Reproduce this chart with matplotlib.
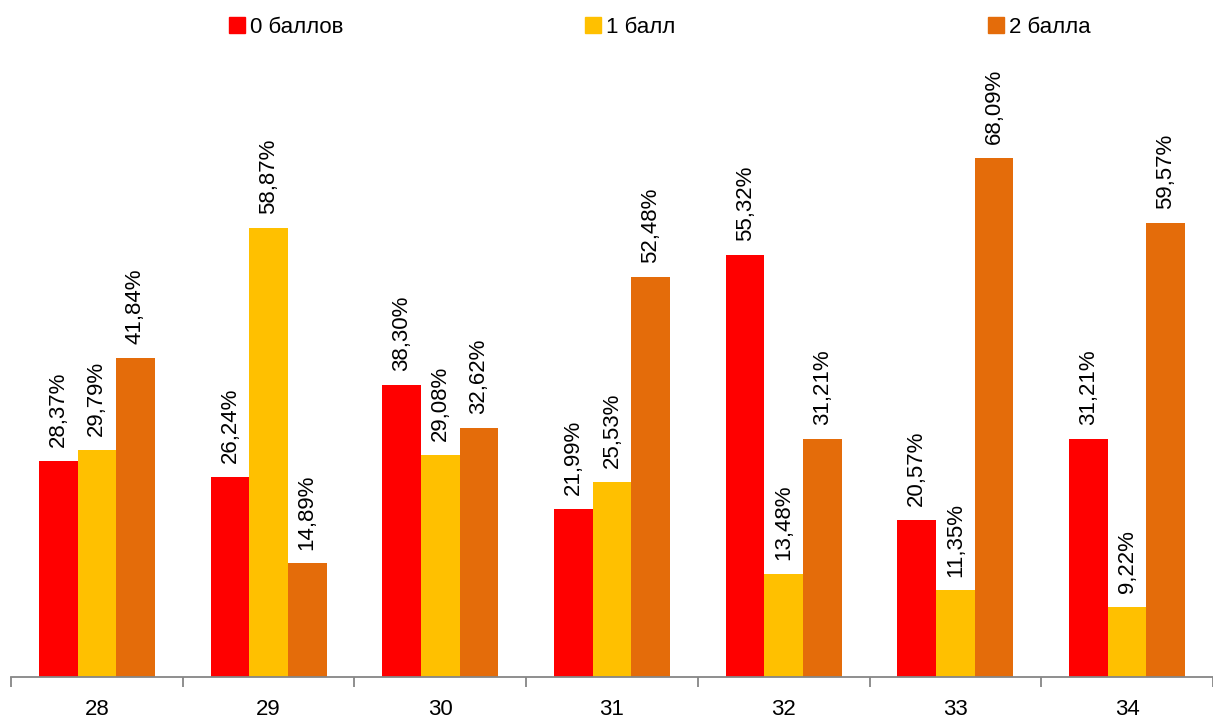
import numpy as np
import matplotlib.pyplot as plt
from matplotlib.patches import Patch

# Данные
groups = ["28", "29", "30", "31", "32", "33", "34"]
series_names = ["0 баллов", "1 балл", "2 балла"]
vals_0 = [28.37, 26.24, 38.30, 21.99, 55.32, 20.57, 31.21]
vals_1 = [29.79, 58.87, 29.08, 25.53, 13.48, 11.35, 9.22]
vals_2 = [41.84, 14.89, 32.62, 52.48, 31.21, 68.09, 59.57]
colors = ["#FF0000", "#FFC000", "#E46C0A"]

plt.rcParams['font.family'] = ['Liberation Sans', 'DejaVu Sans']

fig = plt.figure(figsize=(12.13, 7.22), dpi=100)
ax = fig.add_axes([11/1213, 45/722, 1202/1213, 610/722])

x = np.arange(len(groups))
w = 0.225
for i, (vals, c) in enumerate(zip([vals_0, vals_1, vals_2], colors)):
    bars = ax.bar(x + (i - 1) * w, vals, w, color=c, label=series_names[i])
    for b, v in zip(bars, vals):
        ax.annotate(f"{v:.2f}%".replace(".", ","),
                    (b.get_x() + b.get_width() / 2, b.get_height()),
                    xytext=(0, 10), textcoords="offset points",
                    rotation=90, ha="center", va="bottom", fontsize=16)

ax.set_xlim(-0.5, len(groups) - 0.5)
ax.set_ylim(0, 80)
ax.set_yticks([])
for s in ["top", "right", "left"]:
    ax.spines[s].set_visible(False)
ax.spines["bottom"].set_color("#868686")
ax.spines["bottom"].set_linewidth(1.3)

ax.set_xticks(x)
ax.set_xticklabels(groups, fontsize=16)
ax.tick_params(axis="x", which="major", length=0, pad=16)
ax.set_xticks(np.arange(-0.5, len(groups), 1), minor=True)
ax.tick_params(axis="x", which="minor", length=7, color="#868686", width=1.3)

# легенда
for name, c, xp in zip(series_names, colors, [229/1213, 585/1213, 988/1213]):
    fig.legend(handles=[Patch(color=c)], labels=[name], loc="center left",
               bbox_to_anchor=(xp, 0.962), frameon=False, fontsize=16,
               handlelength=0.7, handleheight=0.7, handletextpad=0.25,
               borderpad=0, borderaxespad=0)

fig.savefig("out.png", dpi=100)
